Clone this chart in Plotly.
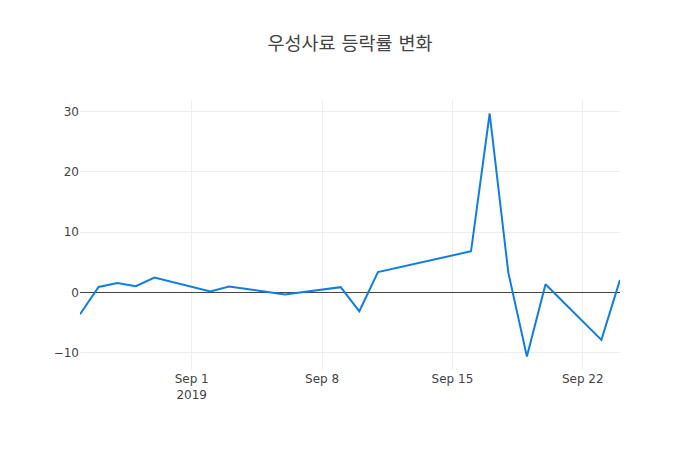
import plotly.graph_objects as go

dates = ["2019-08-26", "2019-08-27", "2019-08-28", "2019-08-29", "2019-08-30",
         "2019-09-02", "2019-09-03", "2019-09-06", "2019-09-09", "2019-09-10",
         "2019-09-11", "2019-09-16", "2019-09-17", "2019-09-18", "2019-09-19",
         "2019-09-20", "2019-09-23", "2019-09-24"]
rates = [-3.6, 0.93, 1.6, 1.05, 2.5,
         0.17, 1.0, -0.3, 0.9, -3.1,
         3.4, 6.85, 29.7, 3.35, -10.6,
         1.38, -7.85, 2.1]

fig = go.Figure()
fig.add_trace(go.Scatter(x=dates, y=rates, mode="lines",
                         line=dict(color="rgb(15,125,230)", width=2)))
fig.update_layout(
    template="none",
    width=700, height=450,
    title=dict(text="우성사료 등락률 변화", x=0.5, xanchor="center",
               font=dict(family="DejaVu Sans, Noto Sans CJK KR, sans-serif", size=18.5, color="#444")),
    font=dict(family="DejaVu Sans, Noto Sans CJK KR, sans-serif", size=12, color="#444"),
    margin=dict(l=80, r=80, t=100, b=80),
    showlegend=False,
    plot_bgcolor="white", paper_bgcolor="white",
)
fig.update_xaxes(gridcolor="#eee", showline=False, zeroline=False)
fig.update_yaxes(gridcolor="#eee", zeroline=True, zerolinecolor="#444", zerolinewidth=1, showline=False)
fig.write_html("out.html", config={"displayModeBar": False},
               post_script="document.body.style.margin='0';")
